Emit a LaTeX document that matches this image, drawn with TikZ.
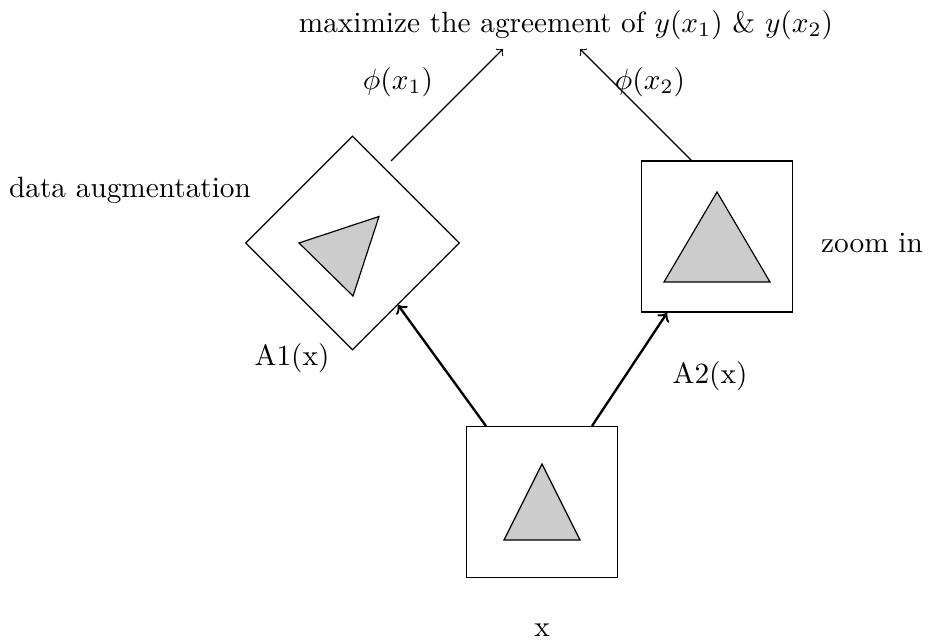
\documentclass[tikz,border=0pt]{standalone}
\usetikzlibrary{calc}
\begin{document}
\begin{tikzpicture}[x=0.012cm,y=-0.012cm,
  box/.style={draw,line width=0.4pt,minimum size=151*0.012cm,inner sep=0pt,outer sep=0pt},
  tri/.style={draw,line width=0.4pt,fill=black!20},
  lbl/.style={inner sep=0pt,font=\normalsize},
  thin arr/.style={->,line width=0.4pt},
  thick arr/.style={->,line width=0.8pt}]
\useasboundingbox (0,0) rectangle (942,640);
% boxes
\node[box,rotate=45] (a1) at (352.5,243) {};
\node[box] (a2) at (717,236.5) {};
\node[box] (x) at (542,502) {};
% triangles
\draw[tri] (299,243) -- (379,216.5) -- (353,296) -- cycle;
\draw[tri] (717,192) -- (664,282) -- (770,282) -- cycle;
\draw[tri] (542,464) -- (504,540) -- (580,540) -- cycle;
% labels
\node[lbl] (title) at (566,25) {maximize the agreement of $y(x_1)$ \& $y(x_2)$};
\node[lbl] (p1) at (398,82) {$\phi(x_1)$};
\node[lbl] (p2) at (650,82) {$\phi(x_2)$};
\node[lbl] (da) at (130,190) {data augmentation};
\node[lbl] (zi) at (872,243) {zoom in};
\node[lbl] (l1) at (292,358) {A1(x)};
\node[lbl] (l2) at (710,376) {A2(x)};
\node[lbl] (lx) at (542,630) {x};
% connector ends
\coordinate (xs1) at (486,426);
\coordinate (xs2) at (592,426);
\coordinate (a1in) at (398,305);
\coordinate (a2in) at (667,313);
\coordinate (a1out) at (391,161);
\coordinate (a2out) at (692,161);
\coordinate (t1) at (503,49);
\coordinate (t2) at (580,49);
% arrows
\draw[thick arr] (xs1) -- (a1in);
\draw[thick arr] (xs2) -- (a2in);
\draw[thin arr] (a1out) -- (t1);
\draw[thin arr] (a2out) -- (t2);
\end{tikzpicture}
\end{document}
